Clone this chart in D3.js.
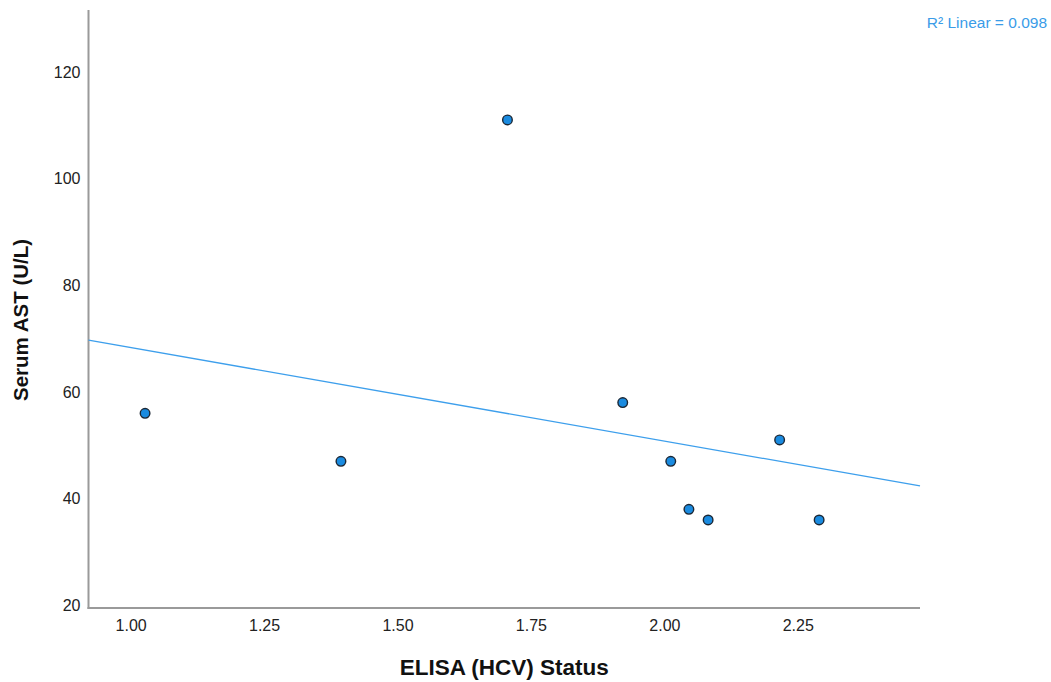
<!DOCTYPE html>
<html>
<head>
<meta charset="utf-8">
<script src="https://cdn.jsdelivr.net/npm/d3@7"></script>
<style>
  body { margin: 0; background: #fff; }
  svg { display: block; font-family: "Liberation Sans", Arial, sans-serif; }
  .tick-label { font-size: 16px; fill: #222; }
  .axis-title { font-weight: bold; fill: #111; }
</style>
</head>
<body>
<svg width="1051" height="682"></svg>
<script>
// ELISA (HCV) status vs serum AST, one dot per patient
const elisa = [1.027, 1.394, 1.706, 1.922, 2.012, 2.046, 2.082, 2.216, 2.290];
const ast = [56, 47, 111, 58, 47, 38, 36, 51, 36];
const xTicks = [1.00, 1.25, 1.50, 1.75, 2.00, 2.25];
const yTicks = [20, 40, 60, 80, 100, 120];

const svg = d3.select('svg');
const plotLeft = 88.5, plotRight = 920, plotTop = 10, plotBottom = 608;

const x = d3.scaleLinear().domain([0.921, 2.479]).range([plotLeft, plotRight]);
const y = d3.scaleLinear().domain([19.5, 131.6]).range([plotBottom, plotTop]);

// least squares fit
const mx = d3.mean(elisa), my = d3.mean(ast);
let sxy = 0, sxx = 0, syy = 0;
elisa.forEach((v, i) => {
  sxy += (v - mx) * (ast[i] - my);
  sxx += (v - mx) * (v - mx);
  syy += (ast[i] - my) * (ast[i] - my);
});
const slope = sxy / sxx, icpt = my - slope * mx;
const r2 = (sxy * sxy) / (sxx * syy);

// axes (no tick marks, just labels)
const xAxis = svg.append('g')
  .attr('transform', 'translate(0,' + plotBottom + ')')
  .call(d3.axisBottom(x).tickValues(xTicks).tickFormat(d3.format('.2f')).tickSize(0).tickPadding(12));
const yAxis = svg.append('g')
  .attr('transform', 'translate(' + plotLeft + ',0)')
  .call(d3.axisLeft(y).tickValues(yTicks).tickSize(0).tickPadding(8));

[xAxis, yAxis].forEach(a => {
  a.select('.domain').attr('stroke', '#9a9a9a').attr('stroke-width', 2);
  a.selectAll('text').attr('class', 'tick-label');
  a.attr('font-family', null).attr('font-size', null);
});
// extend axis lines to the full frame
xAxis.select('.domain').attr('d', 'M' + (plotLeft - 1) + ',0H' + plotRight);
yAxis.select('.domain').attr('d', 'M0,' + plotTop + 'V' + (plotBottom + 1));

// fit line across the whole x range
const xd = x.domain();
svg.append('line')
  .attr('x1', x(xd[0])).attr('y1', y(icpt + slope * xd[0]))
  .attr('x2', x(xd[1])).attr('y2', y(icpt + slope * xd[1]))
  .attr('stroke', '#3d9fec')
  .attr('stroke-width', 1.3);

svg.append('g')
  .selectAll('circle')
  .data(elisa)
  .join('circle')
  .attr('cx', d => x(d))
  .attr('cy', (d, i) => y(ast[i]))
  .attr('r', 4.8)
  .attr('fill', '#1a8be0')
  .attr('stroke', '#1b2735')
  .attr('stroke-width', 1.4);

svg.append('text')
  .attr('x', 1047).attr('y', 28)
  .attr('text-anchor', 'end')
  .attr('font-size', 15.5)
  .attr('fill', '#3a9ce8')
  .text('R\u00b2 Linear = ' + d3.format('.3f')(r2));

svg.append('text')
  .attr('class', 'axis-title')
  .attr('font-size', 22.5)
  .attr('x', (plotLeft + plotRight) / 2).attr('y', 675)
  .attr('text-anchor', 'middle')
  .text('ELISA (HCV) Status');

svg.append('text')
  .attr('class', 'axis-title')
  .attr('font-size', 20.5)
  .attr('transform', 'translate(28,' + 320 + ') rotate(-90)')
  .attr('text-anchor', 'middle')
  .text('Serum AST (U/L)');
</script>
</body>
</html>
